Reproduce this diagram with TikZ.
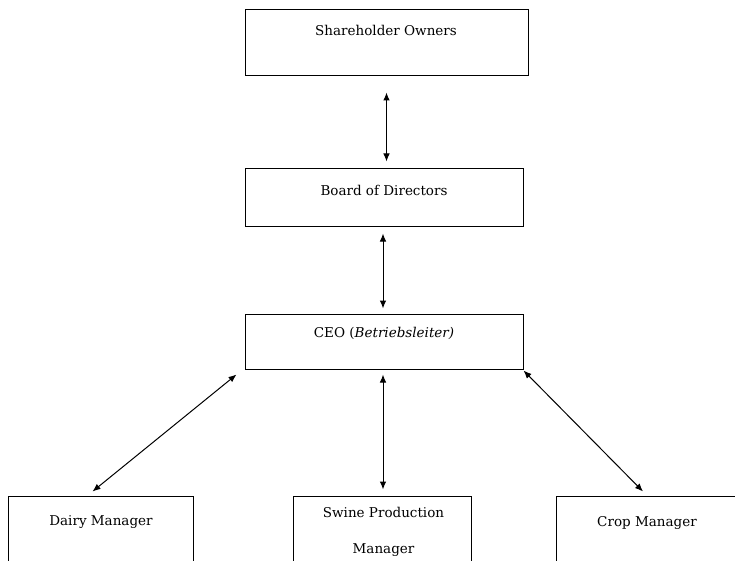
\documentclass[tikz,border=0pt]{standalone}
\usepackage{fontspec}
\setmainfont{DejaVu Serif}
\usetikzlibrary{arrows.meta,calc}
\begin{document}
\begin{tikzpicture}[x=1pt,y=-1pt,
  box/.style={draw=black,line width=1pt,rectangle,inner sep=0pt},
  lbl/.style={font=\fontsize{13.5}{15}\selectfont,inner sep=0pt,anchor=center},
  arr/.style={line width=1pt,{Latex[length=8pt,width=6.5pt]}-{Latex[length=8pt,width=6.5pt]}}]
\useasboundingbox (0,0) rectangle (735,561);
\clip (0,0) rectangle (735,561);
% boxes
\node[box,minimum width=283pt,minimum height=66pt] (sh) at (386.5,43) {};
\node[box,minimum width=278pt,minimum height=57pt] (bd) at (384,197.5) {};
\node[box,minimum width=278pt,minimum height=55pt] (ceo) at (384,341.5) {};
\node[box,minimum width=185pt,minimum height=120pt] (dairy) at (100.5,556) {};
\node[box,minimum width=178pt,minimum height=120pt] (swine) at (382,556) {};
\node[box,minimum width=182pt,minimum height=120pt] (crop) at (647,556) {};
% labels
\node[lbl] (tsh) at (386,30) {Shareholder Owners};
\node[lbl] (tbd) at (384,190) {Board of Directors};
\node[lbl] (tceo) at (384,333) {CEO (\textit{Betriebsleiter)}};
\node[lbl] (tdairy) at (101,522) {Dairy Manager};
\node[lbl] (tswine1) at (383.5,512) {Swine Production};
\node[lbl] (tswine2) at (383.5,550) {Manager};
\node[lbl] (tcrop) at (647,523) {Crop Manager};
% connectors
\draw[arr,shorten <=16pt,shorten >=7pt] (sh.south) -- (sh.south |- bd.north);
\draw[arr,shorten <=7pt,shorten >=5pt] (383,0 |- bd.south) -- (383,0 |- ceo.north);
\draw[arr,shorten <=5pt,shorten >=6pt] (383,0 |- ceo.south) -- (383,0 |- swine.north);
\draw[arr] ($(ceo.south west)+(-8,5)$) -- ($(dairy.north)+(-8,-4)$);
\draw[arr] ($(ceo.south east)+(0,1)$) -- ($(crop.north)+(-4,-4)$);
\end{tikzpicture}
\end{document}
